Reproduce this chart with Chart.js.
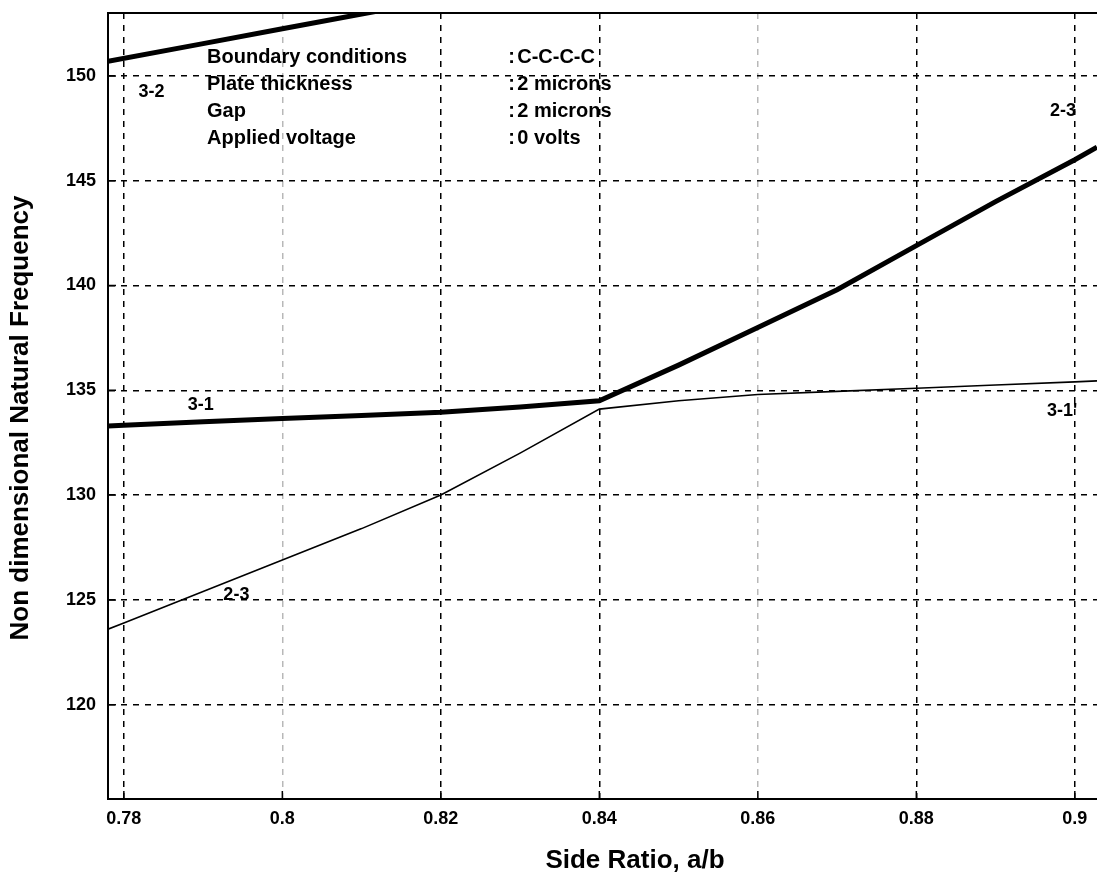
<!DOCTYPE html>
<html><head><meta charset="utf-8">
<script src="https://cdn.jsdelivr.net/npm/chart.js@4.4.0/dist/chart.umd.min.js"></script>
<style>html,body{margin:0;padding:0;background:#fff;}#wrap{width:1097px;height:882px;}</style>
</head><body><div id="wrap"><canvas id="c" width="1097" height="882"></canvas></div>
<script>
// ---- data ----
const sideRatio = [0.778, 0.78, 0.79, 0.80, 0.81, 0.82, 0.83, 0.84, 0.85, 0.86, 0.87, 0.88, 0.89, 0.90, 0.9028];
const freqThick = [133.3, 133.33, 133.5, 133.65, 133.8, 133.95, 134.2, 134.5, 136.2, 138.0, 139.8, 141.9, 144.0, 146.0, 146.6];
const freqThin  = [123.6, 123.9, 125.4, 126.9, 128.4, 130.0, 132.0, 134.1, 134.5, 134.8, 134.95, 135.1, 135.25, 135.4, 135.45];
const sideRatio32 = [0.778, 0.79, 0.80, 0.81, 0.82];
const freq32 = [150.7, 151.54, 152.25, 152.95, 153.65];
const xTicks = [0.78, 0.8, 0.82, 0.84, 0.86, 0.88, 0.9];
const yTicks = [120, 125, 130, 135, 140, 145, 150];
const fadedXTicks = [0.8, 0.86];
const modeLabels = ['3-2', '3-1', '2-3', '2-3', "3-1'"];
const modeLabelX = [0.7835, 0.7897, 0.7942, 0.8985, 0.8984];
const modeLabelY = [149.24, 134.3, 125.25, 148.33, 134.0];
const infoNames = ['Boundary conditions', 'Plate thickness', 'Gap', 'Applied voltage'];
const infoValues = ['C-C-C-C', '2 microns', '2 microns', '0 volts'];
const xTitle = 'Side Ratio, a/b';
const yTitle = 'Non dimensional Natural Frequency';

// ---- layout / style ----
const FONT = '"Liberation Sans", Arial, Helvetica, sans-serif';
const infoLayout = {x: 0.7905, colonX: 0.8285, y0: 150.9, dy: -1.29};
const xTitleLayout = {x: 0.8445, y: 861};
const yTitleLayout = {x: 21, y: 418};

const pts = (xs, ys) => xs.map((x, i) => ({x: x, y: ys[i]}));

const framePlugin = {
  id: 'frame',
  afterDraw(chart) {
    const ctx = chart.ctx, a = chart.chartArea;
    const xs = chart.scales.x, ys = chart.scales.y;
    ctx.save();
    ctx.strokeStyle = '#000';
    ctx.lineWidth = 2;
    ctx.beginPath();
    ctx.moveTo(a.left - 1, a.top);
    ctx.lineTo(a.right, a.top);
    ctx.stroke();
    // inner tick marks
    ctx.lineWidth = 1.5;
    ctx.beginPath();
    yTicks.forEach(v => { const y = ys.getPixelForValue(v); ctx.moveTo(a.left, y); ctx.lineTo(a.left + 8, y); });
    xTicks.forEach(v => { const x = xs.getPixelForValue(v); ctx.moveTo(x, a.bottom); ctx.lineTo(x, a.bottom - 8); });
    ctx.stroke();
    ctx.fillStyle = '#000';
    ctx.textBaseline = 'middle';
    ctx.textAlign = 'center';
    ctx.font = 'bold 18px ' + FONT;
    modeLabels.forEach((t, i) => {
      ctx.fillText(t, xs.getPixelForValue(modeLabelX[i]), ys.getPixelForValue(modeLabelY[i]));
    });
    ctx.textAlign = 'left';
    ctx.font = 'bold 20px ' + FONT;
    infoNames.forEach((t, i) => {
      const y = ys.getPixelForValue(infoLayout.y0 + i * infoLayout.dy);
      ctx.fillText(t, xs.getPixelForValue(infoLayout.x), y);
      const cx = xs.getPixelForValue(infoLayout.colonX);
      ctx.fillText(':', cx, y);
      ctx.fillText(infoValues[i], cx + 9, y);
    });
    ctx.textAlign = 'center';
    ctx.font = 'bold 26px ' + FONT;
    ctx.fillText(xTitle, xs.getPixelForValue(xTitleLayout.x), xTitleLayout.y);
    ctx.translate(yTitleLayout.x, yTitleLayout.y);
    ctx.rotate(-Math.PI / 2);
    ctx.fillText(yTitle, 0, 0);
    ctx.restore();
  }
};

new Chart(document.getElementById('c'), {
  type: 'line',
  data: {
    datasets: [
      {data: pts(sideRatio, freqThick), borderColor: '#000', borderWidth: 5, pointRadius: 0, tension: 0, clip: 0},
      {data: pts(sideRatio, freqThin), borderColor: '#000', borderWidth: 1.6, pointRadius: 0, tension: 0, clip: 0},
      {data: pts(sideRatio32, freq32), borderColor: '#000', borderWidth: 5, pointRadius: 0, tension: 0, clip: 0}
    ]
  },
  options: {
    responsive: false,
    animation: false,
    devicePixelRatio: 1,
    layout: {padding: {top: 13, right: 0, left: 0, bottom: 0}},
    plugins: {legend: {display: false}, tooltip: {enabled: false}},
    scales: {
      x: {
        type: 'linear', min: 0.778, max: 0.9028,
        afterBuildTicks: s => { s.ticks = xTicks.map(v => ({value: v})); },
        afterFit: s => { s.height = 83; s.paddingLeft = 0; s.paddingRight = 0; },
        grid: {
          color: c => (c.tick && fadedXTicks.includes(c.tick.value)) ? 'rgba(0,0,0,0.28)' : '#000',
          lineWidth: 1.5, drawTicks: false
        },
        border: {display: true, color: '#000', width: 2, dash: [6, 6]},
        ticks: {
          color: '#000', font: {family: FONT, size: 18, weight: 'bold'}, padding: 9,
          maxRotation: 0, autoSkip: false,
          callback: v => String(+(+v).toFixed(2))
        },
        title: {display: false}
      },
      y: {
        type: 'linear', min: 115.5, max: 153.0,
        afterBuildTicks: s => { s.ticks = yTicks.map(v => ({value: v})); },
        afterFit: s => { s.width = 108; s.paddingTop = 0; s.paddingBottom = 0; },
        grid: {color: '#000', lineWidth: 1.5, drawTicks: false},
        border: {display: true, color: '#000', width: 2, dash: [6, 6]},
        ticks: {color: '#000', font: {family: FONT, size: 18, weight: 'bold'}, padding: 12},
        title: {display: false}
      }
    }
  },
  plugins: [framePlugin]
});
</script></body></html>
